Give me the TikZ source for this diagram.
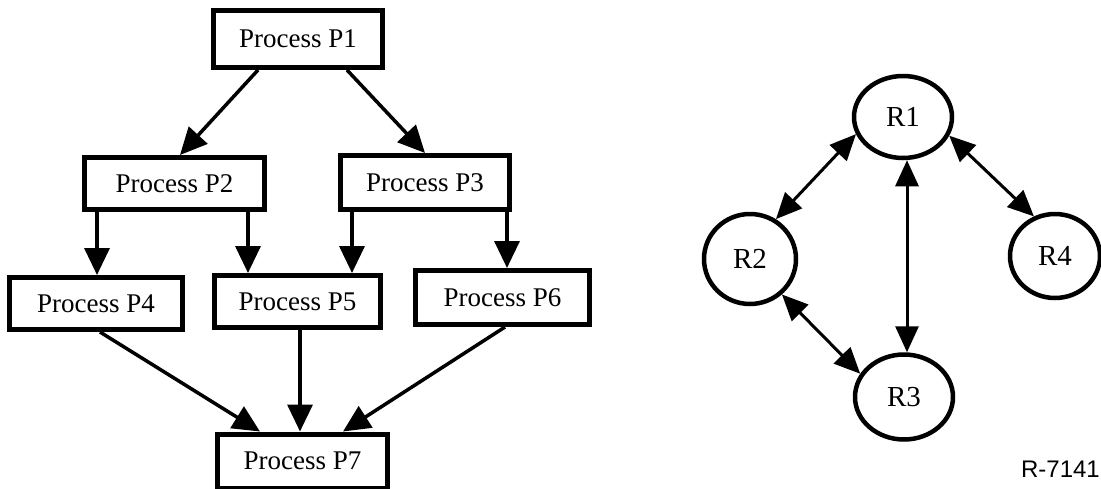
\documentclass[tikz,border=0pt]{standalone}
\usepackage{fontspec}
\setmainfont{Liberation Serif}
\newfontfamily\labelsans{Liberation Sans}
\usetikzlibrary{arrows.meta,shapes.geometric}
\begin{document}
\begin{tikzpicture}[x=1pt,y=-1pt,
  procbox/.style={draw,line width=5pt,rectangle,inner sep=0pt,
    font=\fontsize{27}{32}\selectfont},
  rnode/.style={draw,line width=4.5pt,ellipse,inner sep=0pt,
    font=\fontsize{29}{34}\selectfont},
  arr/.style={line width=3.5pt,-{Triangle[length=27pt,width=25pt]}},
  darr/.style={line width=3pt,{Triangle[length=26pt,width=23pt]}-{Triangle[length=26pt,width=23pt]}}]
\useasboundingbox (0,0) rectangle (1101,488);
% process boxes
\node[procbox,minimum width=169pt,minimum height=57pt] (P1) at (298,39) {Process P1};
\node[procbox,minimum width=180pt,minimum height=52pt] (P2) at (174.5,183.5) {Process P2};
\node[procbox,minimum width=169pt,minimum height=54pt] (P3) at (425,182.5) {Process P3};
\node[procbox,minimum width=173pt,minimum height=52pt] (P4) at (96,303.5) {Process P4};
\node[procbox,minimum width=166pt,minimum height=52pt] (P5) at (297.5,301.5) {Process P5};
\node[procbox,minimum width=174pt,minimum height=54pt] (P6) at (502.5,297.5) {Process P6};
\node[procbox,minimum width=170pt,minimum height=54pt] (P7) at (302.5,461) {Process P7};
% arrows
\draw[arr] ([xshift=-40pt]P1.south) -- ([xshift=5.5pt]P2.north);
\draw[arr] ([xshift=49pt]P1.south) -- ([xshift=0pt]P3.north);
\draw[arr] ([xshift=-77.5pt]P2.south) -- ([xshift=1pt]P4.north);
\draw[arr] ([xshift=73.5pt]P2.south) -- ([xshift=-49.5pt]P5.north);
\draw[arr] ([xshift=-73pt]P3.south) -- ([xshift=54.5pt]P5.north);
\draw[arr] ([xshift=82pt]P3.south) -- ([xshift=4.5pt]P6.north);
\draw[arr] ([xshift=4pt]P4.south) -- ([xshift=-42.5pt]P7.north);
\draw[arr] ([xshift=2.5pt]P5.south) -- ([xshift=-2.5pt]P7.north);
\draw[arr] ([xshift=2.5pt]P6.south) -- ([xshift=40.5pt]P7.north);
% resource graph
\node[rnode,minimum width=98pt,minimum height=82pt] (R1) at (903,117) {R1};
\node[rnode,minimum width=92pt,minimum height=90pt] (R2) at (750,259) {R2};
\node[rnode,minimum width=98pt,minimum height=85pt] (R3) at (904,397) {R3};
\node[rnode,minimum width=90pt,minimum height=84pt] (R4) at (1055,256) {R4};
\draw[darr] (R1.200) -- (R2.57);
\draw[darr] ([xshift=4pt]R1.south) -- ([xshift=3pt]R3.north);
\draw[darr] (R1.338) -- (R4.118);
\draw[darr] (R2.312) -- (R3.152);
\node[anchor=east,inner sep=0pt,font=\labelsans\fontsize{24}{28}\selectfont] (lbl) at (1100,469) {R-7141};
\end{tikzpicture}
\end{document}
